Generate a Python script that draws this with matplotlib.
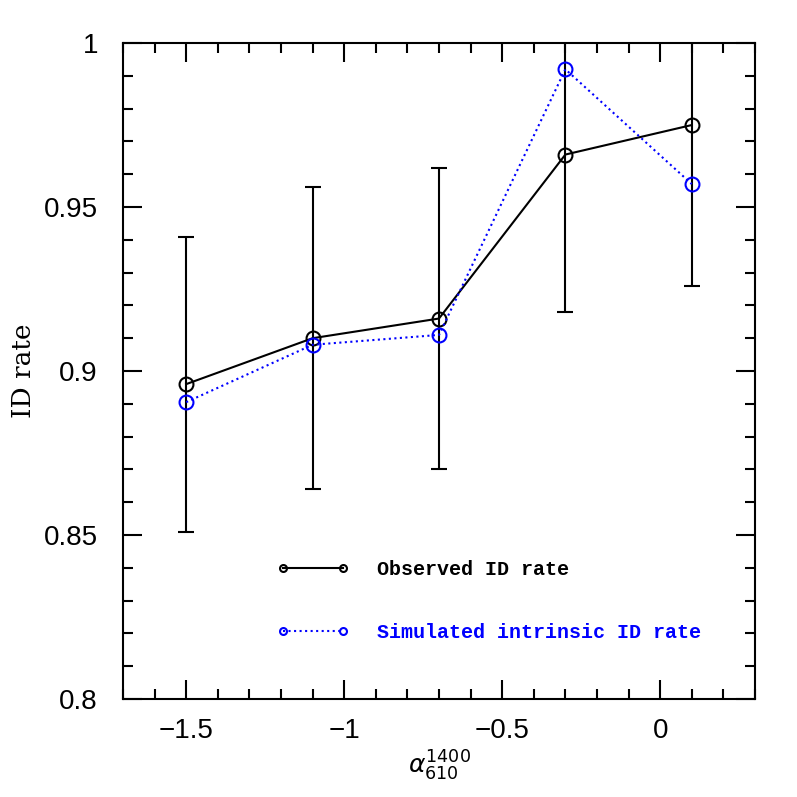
import matplotlib
matplotlib.use("Agg")
import matplotlib.pyplot as plt
from matplotlib.ticker import MultipleLocator
from matplotlib.lines import Line2D

alpha = [-1.5, -1.1, -0.7, -0.3, 0.1]
observed = [0.896, 0.910, 0.916, 0.966, 0.975]
err_up = [0.941, 0.956, 0.962, 1.015, 1.024]
err_lo = [0.851, 0.864, 0.870, 0.918, 0.926]
simulated = [0.8905, 0.908, 0.911, 0.992, 0.957]
xtick_vals = [-1.5, -1.0, -0.5, 0.0]
xtick_labels = ['\u22121.5', '\u22121', '\u22120.5', '0']
ytick_vals = [0.8, 0.85, 0.9, 0.95, 1.0]
ytick_labels = ['0.8', '0.85', '0.9', '0.95', '1']

fig = plt.figure(figsize=(7.97, 7.97), dpi=100)
ax = fig.add_axes([0.1543, 0.123, 0.793, 0.823])

yerr = [[o - l for o, l in zip(observed, err_lo)], [u - o for o, u in zip(observed, err_up)]]
ax.errorbar(alpha, observed, yerr=yerr, fmt='none', ecolor='black', elinewidth=1.5,
            capsize=6, capthick=1.5, zorder=2)
ax.plot(alpha, observed, '-', color='black', lw=1.5, marker='o', ms=10,
        mfc='none', mec='black', mew=1.5, zorder=3)
ax.plot(alpha, simulated, ':', color='blue', lw=1.5, marker='o', ms=10,
        mfc='none', mec='blue', mew=1.5, zorder=3)

ax.set_xlim(-1.7, 0.3)
ax.set_ylim(0.8, 1.0)
ax.xaxis.set_minor_locator(MultipleLocator(0.1))
ax.yaxis.set_minor_locator(MultipleLocator(0.01))
ax.tick_params(which='both', direction='in', top=True, right=True, width=1.5)
ax.tick_params(which='major', length=14, labelsize=20)
ax.tick_params(axis='x', which='major', pad=14)
ax.tick_params(axis='y', which='major', pad=18)
ax.tick_params(which='minor', length=7)
for s in ax.spines.values():
    s.set_linewidth(1.5)

ax.set_xticks(xtick_vals)
ax.set_xticklabels(xtick_labels, family='Liberation Sans')
ax.set_yticks(ytick_vals)
ax.set_yticklabels(ytick_labels, family='Liberation Sans')

ax.set_xlabel(r'$\alpha_{610}^{1400}$', fontsize=18, labelpad=3)
ax.set_ylabel('ID rate', fontsize=19, family='DejaVu Serif', labelpad=6)

h1 = Line2D([], [], color='black', ls='-', lw=1.5, marker='o', ms=5, mfc='none', mew=1.5)
h2 = Line2D([], [], color='blue', ls=':', lw=1.5, marker='o', ms=5, mfc='none', mew=1.5)
leg = ax.legend([h1, h2], ['Observed ID rate', 'Simulated intrinsic ID rate'],
                loc='upper left', bbox_to_anchor=(0.2437, 0.212), frameon=False,
                borderpad=0, borderaxespad=0,
                numpoints=2, handlelength=3.6, handletextpad=1.4, labelspacing=2.2,
                prop={'family': 'Liberation Mono', 'weight': 'bold', 'size': 14.4})
leg.get_texts()[1].set_color('blue')

fig.savefig('out.png', dpi=100)
